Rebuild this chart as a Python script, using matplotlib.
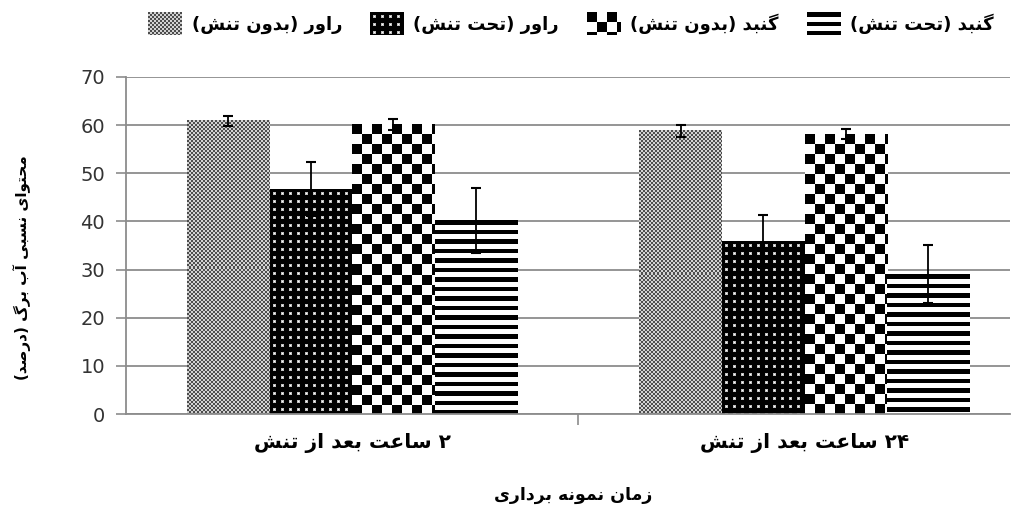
import re
import numpy as np
import matplotlib
matplotlib.use('Agg')
import matplotlib.pyplot as plt
from matplotlib.patches import Rectangle

# values
categories = ['۲ ساعت بعد از تنش', '۲۴ ساعت بعد از تنش']
series_names = ['راور (بدون تنش)', 'راور (تحت تنش)', 'گنبد (بدون تنش)', 'گنبد (تحت تنش)']
rawar_control = [60.9, 58.8]
rawar_stress = [46.7, 35.8]
gonbad_control = [60.1, 58.1]
gonbad_stress = [40.2, 29.0]
rawar_control_err = [1.1, 1.2]
rawar_stress_err = [5.6, 5.5]
gonbad_control_err = [1.1, 1.0]
gonbad_stress_err = [6.8, 6.0]
yticks = [0, 10, 20, 30, 40, 50, 60, 70]
ylabel = 'محتوای نسبی آب برگ (درصد)'
xlabel = 'زمان نمونه برداری'

# matplotlib has no arabic shaping, so pick the presentation forms by hand
# isolated, final, initial, medial
FORMS = {
    'ا': ('\ufe8d', '\ufe8e', None, None),
    'آ': ('\ufe81', '\ufe82', None, None),
    'د': ('\ufea9', '\ufeaa', None, None),
    'ر': ('\ufead', '\ufeae', None, None),
    'ز': ('\ufeaf', '\ufeb0', None, None),
    'و': ('\ufeed', '\ufeee', None, None),
    'ب': ('\ufe8f', '\ufe90', '\ufe91', '\ufe92'),
    'ت': ('\ufe95', '\ufe96', '\ufe97', '\ufe98'),
    'ح': ('\ufea1', '\ufea2', '\ufea3', '\ufea4'),
    'س': ('\ufeb1', '\ufeb2', '\ufeb3', '\ufeb4'),
    'ش': ('\ufeb5', '\ufeb6', '\ufeb7', '\ufeb8'),
    'ص': ('\ufeb9', '\ufeba', '\ufebb', '\ufebc'),
    'ع': ('\ufec9', '\ufeca', '\ufecb', '\ufecc'),
    'م': ('\ufee1', '\ufee2', '\ufee3', '\ufee4'),
    'ن': ('\ufee5', '\ufee6', '\ufee7', '\ufee8'),
    'ه': ('\ufee9', '\ufeea', '\ufeeb', '\ufeec'),
    '\u06cc': ('\ufbfc', '\ufbfd', '\ufbfe', '\ufbff'),
    'گ': ('\ufb92', '\ufb93', '\ufb94', '\ufb95'),
}


def fa(text):
    text = text.replace('\u064a', '\u06cc')
    shaped = []
    for i, c in enumerate(text):
        if c not in FORMS:
            shaped.append(c)
            continue
        prev = text[i-1] if i > 0 else ''
        nxt = text[i+1] if i + 1 < len(text) else ''
        join_prev = prev in FORMS and FORMS[prev][2] is not None
        join_next = FORMS[c][2] is not None and nxt in FORMS
        iso, fin, ini, med = FORMS[c]
        if join_prev and join_next:
            shaped.append(med)
        elif join_prev:
            shaped.append(fin)
        elif join_next:
            shaped.append(ini)
        else:
            shaped.append(iso)
    runs = re.findall(r'[۰-۹0-9]+|.', ''.join(shaped))
    mirror = {'(': ')', ')': '('}
    return ''.join(mirror.get(r, r) for r in runs[::-1])


def pattern(kind, w, h):
    y, x = np.mgrid[0:h, 0:w]
    if kind == 'fine':
        v = np.where(((x // 2) + (y // 2)) % 2 == 0, 0.3, 0.82)
    elif kind == 'dots':
        v = np.zeros((h, w))
        v[((x % 8) >= 3) & ((x % 8) <= 5) & ((y % 8) >= 3) & ((y % 8) <= 5)] = 0.75
        v[((x % 8) == 4) & ((y % 8) == 4)] = 1.0
    elif kind == 'checker':
        v = np.where(((x // 10) + (y // 10)) % 2 == 0, 0.0, 1.0)
    else:
        v = np.where((y % 9.5) < 4.5, 0.0, 1.0)
    return np.dstack([v, v, v])


plt.rcParams['font.family'] = ['DejaVu Sans']

fig = plt.figure(figsize=(10.21, 5.2), dpi=100)
ax = fig.add_axes([126/1021, 106/520, 884/1021, 337/520])
ax.set_xlim(-0.5, 1.454)
ax.set_ylim(0, 70)

values = [rawar_control, rawar_stress, gonbad_control, gonbad_stress]
errors = [rawar_control_err, rawar_stress_err, gonbad_control_err, gonbad_stress_err]
kinds = ['fine', 'dots', 'checker', 'stripes']
x = np.arange(len(categories))
width = 0.1825

for i, (vals, errs, kind) in enumerate(zip(values, errors, kinds)):
    bars = ax.bar(x + (i - 1.5) * width, vals, width, facecolor='none', edgecolor='none', zorder=2)
    for r in bars:
        x0, y0 = r.get_x(), r.get_y()
        x1, y1 = x0 + r.get_width(), y0 + r.get_height()
        (px0, py0), (px1, py1) = ax.transData.transform([(x0, y0), (x1, y1)])
        img = pattern(kind, max(int(round(px1 - px0)), 1), max(int(round(py1 - py0)), 1))
        ax.imshow(img, extent=(x0, x1, y0, y1), origin='upper', interpolation='nearest',
                  aspect='auto', zorder=2)
    ax.errorbar(x + (i - 1.5) * width, vals, yerr=errs, fmt='none', ecolor='black',
                elinewidth=1.3, capsize=3.3, capthick=1.5, zorder=4)

ax.set_xlim(-0.5, 1.454)
ax.set_ylim(0, 70)

ax.set_yticks(yticks)
ax.yaxis.grid(True, color='#8c8c8c', lw=1.3)
ax.set_axisbelow(True)
for s in ['top', 'right']:
    ax.spines[s].set_visible(False)
for s in ['left', 'bottom']:
    ax.spines[s].set_color('#8c8c8c')
    ax.spines[s].set_linewidth(1.3)
ax.tick_params(axis='y', direction='out', length=7, color='#8c8c8c', width=1.2,
               labelsize=14, labelcolor='#333333', pad=8)
ax.set_xticks(x)
ax.set_xticklabels([fa(c) for c in categories], fontsize=14.5, fontweight='bold')
ax.set_xticks([0.5], minor=True)
ax.tick_params(axis='x', which='major', length=0, pad=14)
ax.tick_params(axis='x', which='minor', length=8, color='#8c8c8c', width=1.2, direction='out')

fig.text(22/1021, 1 - 268/520, fa(ylabel), rotation=90, ha='center', va='center',
         fontsize=11, fontweight='bold')
fig.text(573/1021, 1 - 495/520, fa(xlabel), ha='center', va='center',
         fontsize=12.5, fontweight='bold')

handles = [Rectangle((0, 0), 1, 1, facecolor='none', edgecolor='none') for _ in kinds]
leg = fig.legend(handles, [fa(s) for s in series_names], ncol=4, loc='center',
                 bbox_to_anchor=(571/1021, 1 - 24/520), frameon=False,
                 handlelength=1.9, handleheight=1.55, handletextpad=0.5, columnspacing=1.55,
                 prop=dict(weight='bold', size=13))

fig.canvas.draw()
for h, kind in zip(leg.legend_handles, kinds):
    bb = h.get_window_extent()
    arr = pattern(kind, int(round(bb.width)), int(round(bb.height)))
    fig.figimage(arr, xo=int(round(bb.x0)), yo=int(round(bb.y0)), origin='upper', zorder=5)

fig.savefig('out.png', dpi=100)
